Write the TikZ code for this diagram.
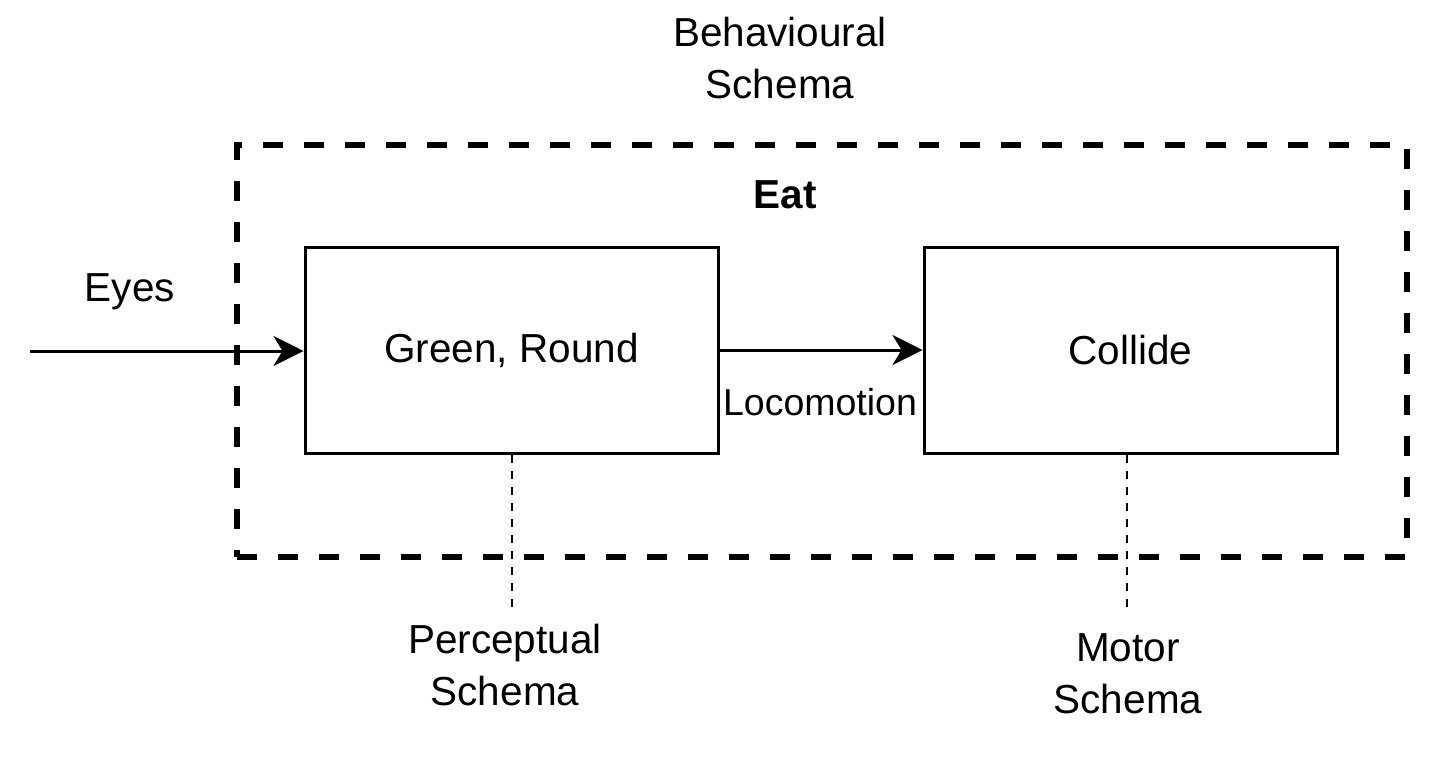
\documentclass[tikz,border=0pt]{standalone}
\usepackage{fontspec}
\setmainfont{Liberation Sans}
\usetikzlibrary{arrows.meta}
\begin{document}
\begin{tikzpicture}[x=1pt,y=-1pt,
  lbl/.style={font=\fontsize{40.5}{52}\selectfont, align=center, inner sep=0pt},
  blk/.style={draw, line width=3pt, minimum width=413pt, minimum height=206pt, inner sep=0pt, font=\fontsize{40.5}{52}\selectfont},
  frm/.style={draw, line width=6pt, dash pattern=on 20pt off 21pt, minimum width=1170pt, minimum height=412pt, inner sep=0pt},
  arr/.style={line width=3pt, -{Stealth[length=30pt,width=30pt,inset=9pt]}},
  dot/.style={line width=2.5pt, dash pattern=on 8pt off 8pt}]
\useasboundingbox (0,0) rectangle (1445,761);
\node[frm] (frame) at (822,351) {};
\node[lbl] (beh) at (780,58) {Behavioural\\Schema};
\node[lbl, font=\fontsize{40.5}{52}\selectfont\bfseries] (eat) at (785,195) {Eat};
\node[blk] (g) at (511.5,350) {Green, Round};
\node[blk] (c) at (1130.5,350) {Collide};
\node[lbl] (eyes) at (130,292) {Eyes};
\node[lbl, font=\fontsize{37.5}{50}\selectfont] (loco) at (820,402) {Locomotion};
\node[lbl] (perc) at (505,665) {Perceptual\\Schema};
\node[lbl] (mot) at (1128,674) {Motor\\Schema};
\coordinate (src) at (30,351);
\coordinate (pend) at (512,608);
\coordinate (mend) at (1127,612);
\draw[arr] (src) -- (src -| g.west);
\draw[arr] (g.east) -- (c.west);
\draw[dot] (g.south -| pend) -- (pend);
\draw[dot] (c.south -| mend) -- (mend);
\end{tikzpicture}
\end{document}
